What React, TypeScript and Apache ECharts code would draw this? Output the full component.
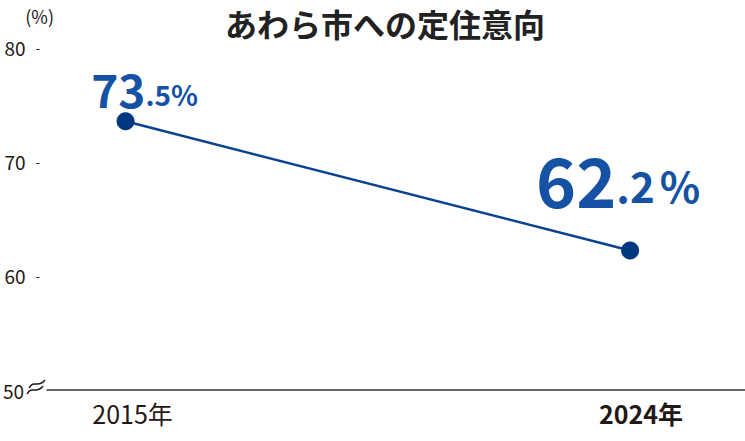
import React, { useEffect, useRef } from "react";
import * as echarts from "echarts";

const title = "あわら市への定住意向";
const unitLabel = "(%)";
const years = [2015, 2024];
const yearLabels = ["2015年", "2024年"];
const values = [73.5, 62.2];
const yTicks = [50, 60, 70, 80];

const FONT = "'Noto Sans CJK JP', 'Noto Sans', sans-serif";

export default function App() {
  const ref = useRef<HTMLDivElement>(null);
  useEffect(() => {
    if (!ref.current) return;
    const chart = echarts.init(ref.current, null, { renderer: "svg" });
    const data = years.map((y, i) => [y, values[i]]);
    chart.setOption({
      animation: false,
      backgroundColor: "#ffffff",
      textStyle: { fontFamily: FONT },
      title: {
        text: title,
        left: 220,
        top: 2,
        textStyle: { fontFamily: FONT, fontSize: 32, fontWeight: "bold", color: "#222222" },
      },
      grid: { left: 45, right: 0, top: 47, bottom: 51, containLabel: false },
      xAxis: {
        type: "value",
        min: 2013.6,
        max: 2026.05,
        splitLine: { show: false },
        axisLine: { show: true, onZero: false, lineStyle: { color: "#333333", width: 1.5 } },
        axisTick: { show: false },
        axisLabel: {
          customValues: years,
          margin: 10,
          formatter: (v: number) => {
            const i = years.indexOf(Math.round(v));
            if (i < 0) return "";
            return i === 0 ? `{a|${yearLabels[i]}}` : `{b|${yearLabels[i]}}`;
          },
          rich: {
            a: { fontFamily: FONT, fontSize: 25, color: "#231815", padding: [0, 0, 0, 14] },
            b: { fontFamily: FONT, fontSize: 25, fontWeight: "bold", color: "#231815", padding: [0, 0, 0, 22] },
          },
        },
      },
      yAxis: {
        type: "value",
        min: 50,
        max: 80,
        interval: 10,
        name: unitLabel,
        nameLocation: "end",
        nameGap: 22,
        nameTextStyle: { fontFamily: FONT, fontSize: 18, color: "#231815", align: "center", padding: [0, 15, 0, 0] },
        splitLine: { show: false },
        axisLine: { show: false },
        axisTick: { show: false },
        axisLabel: {
          customValues: yTicks,
          margin: 7,
          formatter: (v: number) => (v === 50 ? `{n|${v}}{g| }` : `{n|${v}}{d|-}`),
          rich: {
            n: { fontFamily: FONT, fontSize: 19, color: "#231815" },
            d: { fontFamily: FONT, fontSize: 13, color: "#231815", padding: [0, 0, 0, 10] },
            g: { fontFamily: FONT, fontSize: 12, width: 16 },
          },
        },
      },
      graphic: [
        {
          type: "bezierCurve",
          shape: { x1: 29, y1: 388, cpx1: 34, cpy1: 379, cpx2: 38, cpy2: 389, x2: 45, y2: 380 },
          style: { stroke: "#231815", lineWidth: 1.5, fill: "none" },
        },
        {
          type: "bezierCurve",
          shape: { x1: 27, y1: 394, cpx1: 32, cpy1: 385, cpx2: 36, cpy2: 395, x2: 43, y2: 386 },
          style: { stroke: "#231815", lineWidth: 1.5, fill: "none" },
        },
      ],
      series: [
        {
          type: "line",
          data,
          symbol: "circle",
          symbolSize: 18,
          lineStyle: { color: "#0b428f", width: 2.5 },
          itemStyle: { color: "#003781" },
          label: {
            show: true,
            position: "top",
            formatter: (p: any) => {
              const s = p.value[1].toFixed(1);
              const [a, b] = s.split(".");
              return p.dataIndex === 0 ? `{b1|${a}}{s1|.${b}%}` : `{b2|${a}}{s2|.${b}}{p2|%}`;
            },
            rich: {
              b1: { fontFamily: FONT, fontSize: 46, fontWeight: "bold", color: "#1652a3" },
              s1: { fontFamily: FONT, fontSize: 28, fontWeight: "bold", color: "#1652a3", padding: [12, 0, 0, 0] },
              b2: { fontFamily: FONT, fontSize: 68, fontWeight: "bold", color: "#1652a3" },
              s2: { fontFamily: FONT, fontSize: 42, fontWeight: "bold", color: "#1652a3", padding: [12, 0, 0, 0] },
              p2: { fontFamily: FONT, fontSize: 42, fontWeight: "bold", color: "#1652a3", padding: [12, 0, 0, 5] },
            },
          },
          labelLayout: (params: any) => {
            return params.dataIndex === 0 ? { dx: 19, dy: 4 } : { dx: -12, dy: -24 };
          },
        },
      ],
    });
    return () => chart.dispose();
  }, []);
  return (
    <div
      ref={ref}
      style={{ position: "fixed", left: 0, top: 0, width: 745, height: 441 }}
    />
  );
}
